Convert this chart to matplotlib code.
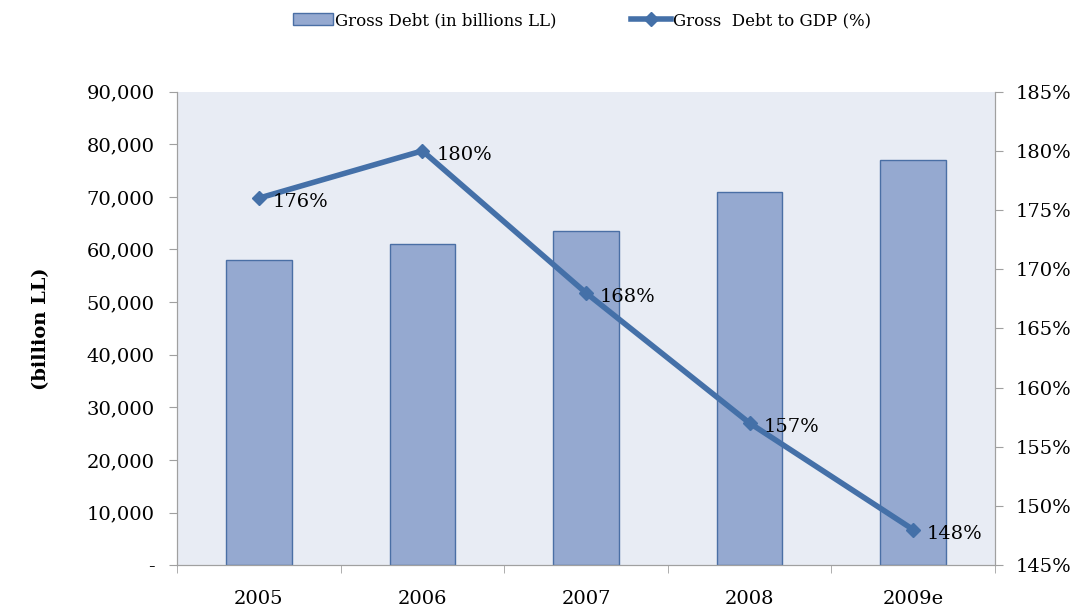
import matplotlib.pyplot as plt
import numpy as np
from matplotlib.ticker import FuncFormatter

years = ['2005', '2006', '2007', '2008', '2009e']
gross_debt = [58000, 61000, 63500, 71000, 77000]      # billions LL
debt_to_gdp = [176, 180, 168, 157, 148]               # percent

plt.rcParams['font.family'] = ['DejaVu Serif']

fig = plt.figure(figsize=(10.76, 6.07), dpi=100)
ax = fig.add_axes([0.1645, 0.069, 0.7602, 0.78])
ax2 = ax.twinx()

x = np.arange(len(years))
bars = ax.bar(x, gross_debt, width=0.4, color='#95A9D0', edgecolor='#4A6FA5',
              linewidth=1, label='Gross Debt (in billions LL)', zorder=2)
ax.set_facecolor('#E8ECF4')
ax.set_xlim(-0.5, len(years) - 0.5)
ax.set_ylim(0, 90000)
ax.set_yticks(np.arange(0, 90001, 10000))
ax.yaxis.set_major_formatter(FuncFormatter(lambda v, p: '-' if v == 0 else f'{int(v):,}'))
ax.set_xticks(x)
ax.set_xticklabels(years)
ax.set_xticks(np.arange(-0.5, len(years)), minor=True)
ax.tick_params(axis='x', which='major', length=0, labelsize=14, pad=18)
ax.tick_params(axis='x', which='minor', length=6, color='#A0A0A0')
ax.tick_params(axis='y', length=6, color='#A0A0A0', labelsize=14, pad=10)
ax.set_ylabel('(billion LL)', fontsize=14, fontweight='bold', labelpad=26)

line, = ax2.plot(x, debt_to_gdp, color='#4470A8', linewidth=4, marker='D',
                 markersize=7, label='Gross  Debt to GDP (%)', zorder=3)
for xi, v in zip(x, debt_to_gdp):
    ax2.annotate(f'{v}%', (xi, v), xytext=(10, -3), textcoords='offset points',
                 ha='left', va='center', fontsize=14)
ax2.set_ylim(145, 185)
ax2.set_yticks(np.arange(145, 186, 5))
ax2.yaxis.set_major_formatter(FuncFormatter(lambda v, p: f'{int(v)}%'))
ax2.tick_params(axis='y', length=6, color='#A0A0A0', labelsize=14, pad=9)

for a in (ax, ax2):
    a.spines['top'].set_visible(False)
    for side in ('left', 'right', 'bottom'):
        a.spines[side].set_color('#A0A0A0')

fig.legend(handles=[bars, line], loc='upper center', bbox_to_anchor=(0.541, 1.005),
           ncol=2, frameon=False, fontsize=12, columnspacing=4.5,
           handlelength=2.4, handletextpad=0.1)

fig.savefig('out.png', dpi=100)
